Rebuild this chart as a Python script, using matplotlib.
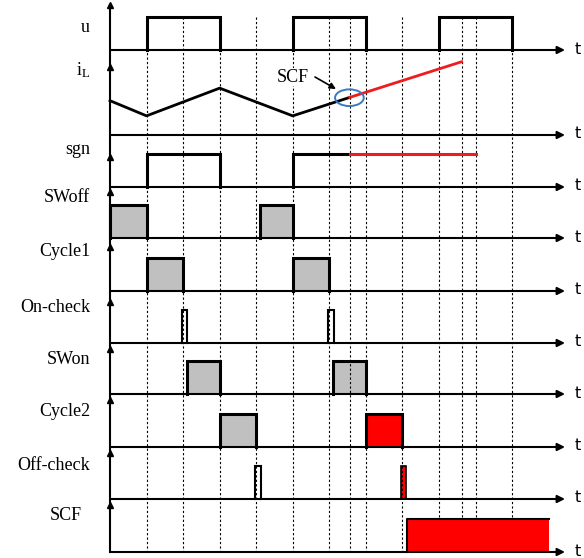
import numpy as np
import matplotlib.pyplot as plt
from matplotlib.patches import Rectangle, Ellipse

plt.rcParams['mathtext.fontset'] = 'custom'
plt.rcParams['mathtext.rm'] = 'Liberation Serif'

# --- data (time in switching-interval units, levels in pulse heights) ---
ROW_NAMES = ['u', r'$\mathregular{i_L}$', 'sgn', 'SWoff', 'Cycle1', 'On-check',
             'SWon', 'Cycle2', 'Off-check', 'SCF']
T_MARKS = [1, 2, 3, 4, 5, 6, 6.56, 7, 8, 9, 9.62, 10, 11]

u_pulses = [(1, 3), (5, 7), (9, 11)]
il_t = [0, 1, 3, 5, 6.56]
il_v = [1.04, 0.58, 1.42, 0.58, 1.14]
il_fault_t = [6.56, 9.62]
il_fault_v = [1.14, 2.22]
sgn_t = [1, 1, 3, 3, np.nan, 5, 5, 6.56]
sgn_v = [0, 1, 1, 0, np.nan, 0, 1, 1]
sgn_fault_t = [6.56, 10]
sgn_fault_v = [1, 1]
swoff = [(0, 1), (4.1, 5)]
cycle1 = [(1, 2), (5, 6)]
oncheck = [(1.97, 2.12), (5.97, 6.12)]
swon = [(2.1, 3), (6.1, 7)]
cycle2 = [(3, 4)]
cycle2_fault = [(7, 8)]
offcheck = [(3.97, 4.12)]
offcheck_fault = [(7.97, 8.1)]
scf_on = (8.13, 12.0)

# --- layout (pixels) ---
PX = 36.55          # pixels per time unit
X0 = 110            # pixel of t=0
H = 33              # pulse height in pixels
BASE = [50, 135, 187, 238, 291, 343, 394, 447, 499, 552]
TOPS = [5, 67, 157, 192, 247, 302, 349, 400, 453, 505]
LABEL_Y = [28, 70, 150, 198, 252, 308, 360, 412, 465, 515]
GRAY = '#c0c0c0'
RED = '#ff0000'

fig = plt.figure(figsize=(5.84, 5.58), dpi=100)
ax = fig.add_axes([0, 0, 1, 1])
ax.set_xlim(-X0 / PX, (584 - X0) / PX)
ax.set_ylim(558, 0)
ax.axis('off')

def px(x):
    return (x - X0) / PX

t_end = px(565)
t_lab = px(578)

# vertical dotted guides
ax.vlines(T_MARKS, 17, BASE[-1], colors='k', linestyles=(0, (2, 2)), lw=0.8, zorder=2)

# axes
ax.plot([0, 0], [BASE[-1], TOPS[0]], color='k', lw=1.5, zorder=5)
ax.plot([0] * len(TOPS), TOPS, ls='none', marker='^', ms=5, color='k', zorder=6)
for i, b in enumerate(BASE):
    ax.annotate('', xy=(t_end, b), xytext=(0, b),
                arrowprops=dict(arrowstyle='-|>', lw=1.5, color='k',
                                mutation_scale=11, shrinkA=0, shrinkB=0), zorder=5)
    ax.text(t_lab, b - 1, 't', fontsize=11.5, ha='center', va='center', family='DejaVu Sans')
    x_lab = px(90) if i < 9 else px(82)
    ax.text(x_lab, LABEL_Y[i], ROW_NAMES[i], fontsize=13, ha='right', va='center',
            family='Liberation Serif')

def lvl(row, v):
    return BASE[row] - np.asarray(v, dtype=float) * H

# u
for t0, t1 in u_pulses:
    ax.plot([t0, t0, t1, t1], lvl(0, [0, 1, 1, 0]), color='k', lw=2.2,
            solid_joinstyle='miter', zorder=4)

# iL
ax.plot(il_t, lvl(1, il_v), color='k', lw=2, zorder=4)
ax.plot(il_fault_t, lvl(1, il_fault_v), color='#ee1c1c', lw=2, zorder=4)
ax.add_patch(Ellipse((6.55, lvl(1, 1.13)), 28.7 / PX, 16.7, fill=False,
                     ec='#3b78c4', lw=1.4, zorder=5))
ax.text(px(293), 77, 'SCF', ha='center', va='center', fontsize=13,
        family='Liberation Serif', zorder=6,
        bbox=dict(fc='white', ec='none', pad=0.5))
ax.annotate('', xy=(px(336), 89), xytext=(px(315), 77),
            arrowprops=dict(arrowstyle='-|>', lw=1.2, color='k', mutation_scale=9,
                            shrinkA=0, shrinkB=0), zorder=6)

# sgn
ax.plot(sgn_t, lvl(2, sgn_v), color='k', lw=2.2, solid_joinstyle='miter', zorder=4)
ax.plot(sgn_fault_t, lvl(2, sgn_fault_v), color='#ee1c1c', lw=2.2, zorder=4)

def boxes(row, spans, fc, lw=2.2, z=1):
    for t0, t1 in spans:
        ax.add_patch(Rectangle((t0, BASE[row] - H), t1 - t0, H, fc=fc, ec='none', zorder=z))
        ax.plot([t0, t0, t1, t1], lvl(row, [0, 1, 1, 0]), color='k', lw=lw,
                solid_joinstyle='miter', zorder=4)

boxes(3, swoff, GRAY)
boxes(4, cycle1, GRAY)
boxes(5, oncheck, 'white', lw=1.5)
boxes(6, swon, GRAY)
boxes(7, cycle2, GRAY)
boxes(7, cycle2_fault, RED)
boxes(8, offcheck, 'white', lw=1.5)
boxes(8, offcheck_fault, RED, lw=1.2)

# SCF flag
t0, t1 = scf_on
ax.add_patch(Rectangle((t0, BASE[9] - H), t1 - t0, H, fc=RED, ec='none', zorder=3))
ax.plot([t0, t0, t1], lvl(9, [0, 1, 1]), color='k', lw=1.5, zorder=4)

fig.savefig('out.png', dpi=100)
